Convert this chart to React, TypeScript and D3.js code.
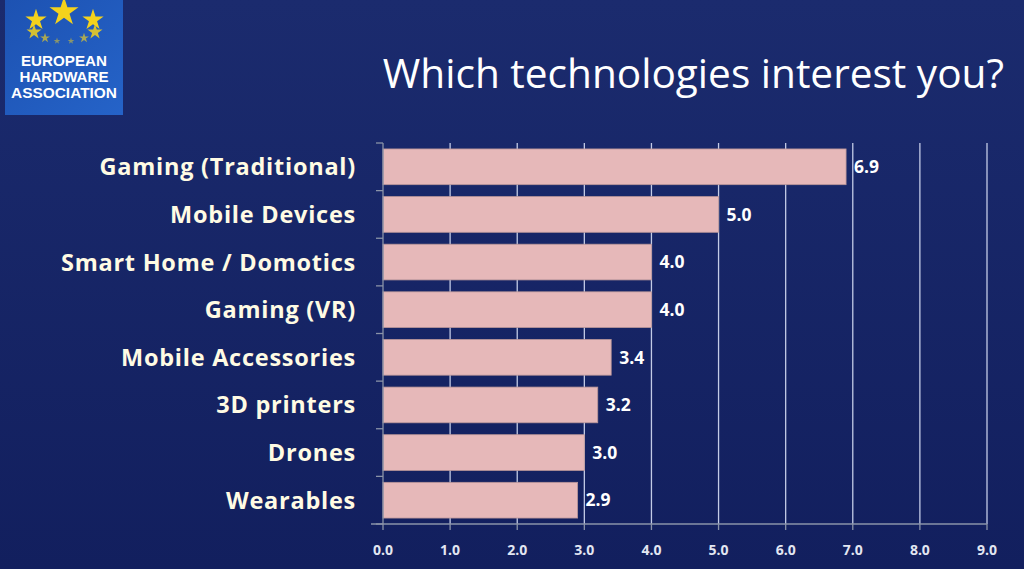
import * as d3 from "d3"

const categories = [
  "Gaming (Traditional)",
  "Mobile Devices",
  "Smart Home / Domotics",
  "Gaming (VR)",
  "Mobile Accessories",
  "3D printers",
  "Drones",
  "Wearables",
]
const values = [6.9, 5.0, 4.0, 4.0, 3.4, 3.2, 3.0, 2.9]
const xTicks = [0, 1, 2, 3, 4, 5, 6, 7, 8, 9]

// logo stars: [x, y, size, opacity]
const stars: [number, number, number, number][] = [
  [64, 12, 260, 1],
  [36, 20, 140, 1],
  [93, 20, 140, 1],
  [34, 32, 70, 0.85],
  [95, 32, 70, 0.85],
  [45, 38, 30, 0.65],
  [84, 38, 30, 0.65],
  [57, 41, 14, 0.5],
  [71, 41, 14, 0.5],
]
// logo text lines: [text, width]
const logoLines: [string, number][] = [
  ["EUROPEAN", 86],
  ["HARDWARE", 89],
  ["ASSOCIATION", 106],
]

const W = 1024
const H = 569
const margin = { top: 143, right: 37, bottom: 45, left: 383 }

export default function App() {
  const x = d3.scaleLinear().domain([0, 9]).range([margin.left, W - margin.right])
  const y = d3.scaleBand().domain(categories).range([margin.top, H - margin.bottom]).paddingInner(0.25).paddingOuter(0.125)
  const step = y.step()
  const font = "'Open Sans', 'Noto Sans', sans-serif"
  const starPath = d3.symbol(d3.symbolStar)

  return (
    <div style={{ position: "fixed", left: 0, top: 0, width: W, height: H }}>
      <svg width={W} height={H} style={{ display: "block", fontFamily: font }}>
        <defs>
          <linearGradient id="bg" x1="0" y1="0" x2="0" y2="1">
            <stop offset="0%" stopColor="#1b2b6e" />
            <stop offset="100%" stopColor="#121f5e" />
          </linearGradient>
          <linearGradient id="logo" x1="0" y1="0" x2="1" y2="1">
            <stop offset="0%" stopColor="#1d52b2" />
            <stop offset="100%" stopColor="#2563c8" />
          </linearGradient>
        </defs>
        <rect width={W} height={H} fill="url(#bg)" />

        {/* logo */}
        <rect x={5} y={0} width={118} height={115} fill="url(#logo)" />
        {stars.map(([sx, sy, s, o], i) => (
          <path key={i} d={starPath.size(s)() as string} transform={`translate(${sx},${sy})`} fill="#f4d21c" opacity={o} />
        ))}
        <g fill="#ffffff" fontWeight={700} fontSize={13.8} textAnchor="middle" fontFamily="'Liberation Sans', Arial, sans-serif">
          {logoLines.map(([t, w], i) => (
            <text key={t} x={64} y={66 + i * 16.2} textLength={w} lengthAdjust="spacingAndGlyphs">
              {t}
            </text>
          ))}
        </g>

        {/* title */}
        <text x={1004} y={88} textAnchor="end" fill="#ffffff" fontSize={40.6} fontWeight={400}>
          Which technologies interest you?
        </text>

        {/* vertical gridlines */}
        {xTicks.slice(1).map((t) => (
          <line key={t} x1={x(t)} x2={x(t)} y1={margin.top} y2={H - margin.bottom} stroke="#c3cbe6" strokeWidth={1.3} />
        ))}

        {/* bars */}
        {categories.map((c, i) => (
          <rect
            key={c}
            x={x(0)}
            y={y(c)}
            width={x(values[i]) - x(0)}
            height={y.bandwidth()}
            fill="#e6b8b9"
            stroke="#b89598"
            strokeWidth={0.8}
          />
        ))}

        {/* value labels */}
        {categories.map((c, i) => (
          <text
            key={c}
            x={x(values[i]) + 8}
            y={(y(c) as number) + y.bandwidth() / 2}
            dy="0.36em"
            fill="#ffffff"
            fontSize={17.5}
            fontWeight={700}
          >
            {values[i].toFixed(1)}
          </text>
        ))}

        {/* category labels */}
        {categories.map((c) => (
          <text
            key={c}
            x={356}
            y={(y(c) as number) + y.bandwidth() / 2}
            dy="0.36em"
            textAnchor="end"
            fill="#fffbe4"
            fontSize={23.5}
            fontWeight={700}
            letterSpacing={0.75}
          >
            {c}
          </text>
        ))}

        {/* y axis */}
        <line x1={x(0)} x2={x(0)} y1={margin.top} y2={H - margin.bottom} stroke="#8a93a8" strokeWidth={1.3} />
        {d3.range(categories.length + 1).map((i) => (
          <line key={i} x1={x(0) - 7} x2={x(0)} y1={margin.top + i * step} y2={margin.top + i * step} stroke="#8a93a8" strokeWidth={1.3} />
        ))}

        {/* x axis */}
        <line x1={x(0) - 12} x2={x(9)} y1={H - margin.bottom} y2={H - margin.bottom} stroke="#8a93a8" strokeWidth={1.5} />
        {xTicks.map((t) => (
          <g key={t}>
            <line x1={x(t)} x2={x(t)} y1={H - margin.bottom} y2={H - margin.bottom + 6} stroke="#8a93a8" strokeWidth={1.3} />
            <text x={x(t)} y={H - 14} textAnchor="middle" fill="#e2e6f2" fontSize={14} fontWeight={700}>
              {t.toFixed(1)}
            </text>
          </g>
        ))}
      </svg>
    </div>
  )
}
